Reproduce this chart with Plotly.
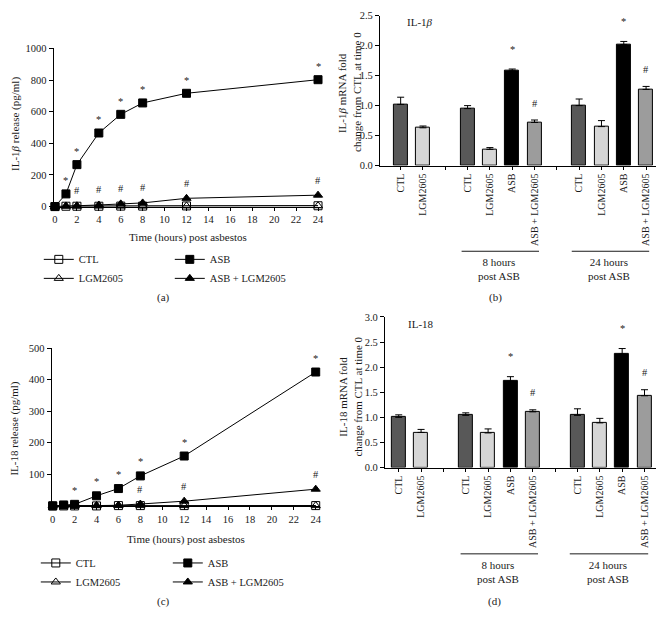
import plotly.graph_objects as go

W, H = 668, 628
FONT = "Liberation Serif, Times New Roman, serif"
FS = 10.5
FT = 11
OFF = 8  # the page body adds an 8 px margin; positions below are screen pixels

# ---------------- data ----------------
hours = [0, 1, 2, 4, 6, 8, 12, 24]

# (a) IL-1beta release (pg/ml)
a_ctl = [0, 2, 2, 2, 3, 3, 4, 5]
a_lgm = [0, 2, 2, 3, 3, 3, 4, 5]
a_asb = [0, 80, 265, 465, 583, 655, 716, 802]
a_asb_lgm = [0, 4, 5, 10, 17, 23, 52, 72]
a_star_hours = [1, 2, 4, 6, 8, 12, 24]
a_hash_hours = [2, 4, 6, 8, 12, 24]

# (c) IL-18 release (pg/ml)
c_ctl = [0, 0, 0, 0, 1, 1, 1, 1]
c_lgm = [0, 0, 0, 1, 1, 1, 1, 1]
c_asb = [0, 3, 5, 32, 55, 95, 158, 424]
c_asb_lgm = [0, 1, 1, 1, 2, 6, 15, 53]
c_star_hours = [2, 4, 6, 8, 12, 24]
c_hash_hours = [8, 12, 24]

# (b), (d) mRNA fold change; empty strings are spacer slots between groups
bar_labels = ["CTL", "LGM2605", "", "CTL", "LGM2605", "ASB", "ASB + LGM2605",
              "", "CTL", "LGM2605", "ASB", "ASB + LGM2605"]
b_values = [1.02, 0.63, None, 0.95, 0.27, 1.58, 0.72, None, 1.00, 0.65, 2.02, 1.27]
b_errors = [0.12, 0.03, None, 0.05, 0.03, 0.03, 0.04, None, 0.11, 0.10, 0.05, 0.05]
b_marks = ["", "", "", "", "", "*", "#", "", "", "", "*", "#"]
d_values = [1.00, 0.70, None, 1.04, 0.69, 1.72, 1.11, None, 1.04, 0.89, 2.26, 1.43]
d_errors = [0.05, 0.06, None, 0.05, 0.08, 0.09, 0.04, None, 0.13, 0.09, 0.11, 0.12]
d_marks = ["", "", "", "", "", "*", "#", "", "", "", "*", "#"]
group_titles = ["8 hours<br>post ASB", "24 hours<br>post ASB"]

BAR_COLORS = {"CTL": "#585858", "LGM2605": "#d6d6d6", "ASB": "#000000",
              "ASB + LGM2605": "#9c9c9c"}
INK = "#1a1a1a"


def px_x(p):
    return (p - OFF) / W


def px_y(p):
    return 1 - (p - OFF) / H


fig = go.Figure()

# ---------------- line panels ----------------
line_styles = [
    ("CTL", "square-open"),
    ("LGM2605", "triangle-up-open"),
    ("ASB", "square"),
    ("ASB + LGM2605", "triangle-up"),
]


def add_line_panel(series, xa, ya, legends):
    for (name, sym), ys, lg in zip(line_styles, series, legends):
        fig.add_trace(go.Scatter(
            x=hours, y=ys, name=name, mode="lines+markers",
            line=dict(color="black", width=1),
            marker=dict(symbol=sym, size=8, color="black",
                        line=dict(color="black", width=1)),
            xaxis=xa, yaxis=ya, legend=lg, cliponaxis=False, showlegend=True))


add_line_panel([a_ctl, a_lgm, a_asb, a_asb_lgm], "x", "y",
               ["legend", "legend", "legend2", "legend2"])
add_line_panel([c_ctl, c_lgm, c_asb, c_asb_lgm], "x2", "y2",
               ["legend3", "legend3", "legend4", "legend4"])

annotations = []


def sig_marks(times, series, xref, yref, text, shift):
    for t in times:
        v = series[hours.index(t)]
        annotations.append(dict(x=t, y=v, xref=xref, yref=yref, text=text,
                                showarrow=False, yshift=shift, yanchor="middle",
                                font=dict(family=FONT, size=FS, color=INK)))


sig_marks(a_star_hours, a_asb, "x", "y", "*", 13)
sig_marks(a_hash_hours, a_asb_lgm, "x", "y", "#", 15)
sig_marks(c_star_hours, c_asb, "x2", "y2", "*", 14)
sig_marks(c_hash_hours, c_asb_lgm, "x2", "y2", "#", 15)

# ---------------- bar panels ----------------


def add_bar_panel(values, errors, marks, xa, ya, xref, yref):
    idx = [i for i, v in enumerate(values) if v is not None]
    fig.add_trace(go.Bar(
        x=idx, y=[values[i] for i in idx], width=0.63,
        marker=dict(color=[BAR_COLORS[bar_labels[i]] for i in idx],
                    line=dict(color="black", width=1)),
        error_y=dict(type="data", array=[errors[i] for i in idx],
                     arrayminus=[0] * len(idx), symmetric=False,
                     color="black", thickness=1, width=3.5),
        xaxis=xa, yaxis=ya, showlegend=False))
    for i in idx:
        if marks[i]:
            annotations.append(dict(x=i, y=values[i] + errors[i], xref=xref,
                                    yref=yref, text=marks[i], showarrow=False,
                                    yshift=20 if marks[i] == "*" else 17,
                                    yanchor="middle",
                                    font=dict(family=FONT, size=FS, color=INK)))


add_bar_panel(b_values, b_errors, b_marks, "x3", "y3", "x3", "y3")
add_bar_panel(d_values, d_errors, d_marks, "x4", "y4", "x4", "y4")

# ---------------- axes ----------------
axis_common = dict(showline=True, linecolor="black", linewidth=1, showgrid=False,
                   zeroline=False, ticks="outside", tickcolor="black")
tick_font = dict(family=FONT, size=FS, color=INK)
bar_tick_font = dict(family=FONT, size=10, color=INK)

layout_axes = dict(
    xaxis=dict(domain=[px_x(52), px_x(321)], range=[-0.12, 24.24],
               tickvals=list(range(0, 25, 2)), ticklen=3, anchor="y",
               tickfont=tick_font, **axis_common),
    yaxis=dict(domain=[px_y(205), px_y(44)], range=[0, 1000], dtick=200,
               ticklen=4, anchor="x", tickfont=tick_font, **axis_common),
    xaxis2=dict(domain=[px_x(50), px_x(319)], range=[-0.09, 24.27],
                tickvals=list(range(0, 25, 2)), ticklen=3, anchor="y2",
                tickfont=tick_font, **axis_common),
    yaxis2=dict(domain=[px_y(509.7), px_y(349)], range=[0, 500],
                tickvals=[100, 200, 300, 400, 500], ticklen=4, anchor="x2",
                tickfont=tick_font, **axis_common),
    xaxis3=dict(domain=[px_x(380.7), px_x(659)], range=[-0.93, 11.45],
                tickvals=list(range(len(bar_labels))), ticktext=bar_labels,
                tickangle=-90, ticklen=3, anchor="y3", tickfont=bar_tick_font,
                **axis_common),
    yaxis3=dict(domain=[px_y(163.3), px_y(10.7)], range=[0, 2.5], dtick=0.5,
                tickformat=".1f", ticklen=4, anchor="x3", tickfont=tick_font,
                **axis_common),
    xaxis4=dict(domain=[px_x(385.7), px_x(659)], range=[-0.62, 11.52],
                tickvals=list(range(len(bar_labels))), ticktext=bar_labels,
                tickangle=-90, ticklen=3, anchor="y4", tickfont=bar_tick_font,
                **axis_common),
    yaxis4=dict(domain=[px_y(470.7), px_y(317.3)], range=[0, 3.0], dtick=0.5,
                tickformat=".1f", ticklen=4, anchor="x4", tickfont=tick_font,
                **axis_common),
)

# ---------------- text ----------------


def ptext(x, y, text, angle=0, size=FT):
    annotations.append(dict(x=px_x(x), y=px_y(y), xref="paper", yref="paper",
                            text=text, showarrow=False, textangle=angle,
                            xanchor="center", yanchor="middle",
                            font=dict(family=FONT, size=size, color=INK)))


ptext(13, 121, "IL-1<i>β</i> release (pg/ml)", angle=-90)
ptext(187, 237, "Time (hours) post asbestos")
ptext(163, 298, "(a)")
ptext(13, 431, "IL-18 release (pg/ml)", angle=-90)
ptext(185, 544, "Time (hours) post asbestos")
ptext(163, 607, "(c)")

ptext(342, 90, "IL-1<i>β</i> mRNA fold", angle=-90)
ptext(357, 88, "change from CTL at time 0", angle=-90)
ptext(421, 17, "IL-1<i>β</i>")
ptext(501, 269, group_titles[0])
ptext(612, 269, group_titles[1])
ptext(497, 298, "(b)")

ptext(344, 398, "IL-18 mRNA fold", angle=-90)
ptext(359, 398, "change from CTL at time 0", angle=-90)
ptext(422, 325, "IL-18")
ptext(500, 577, group_titles[0])
ptext(611, 577, group_titles[1])
ptext(496, 607, "(d)")

shapes = []


def pline(x0, x1, y):
    shapes.append(dict(type="line", xref="paper", yref="paper",
                       x0=px_x(x0), x1=px_x(x1), y0=px_y(y), y1=px_y(y),
                       line=dict(color=INK, width=1)))


pline(463, 541, 250.5)
pline(574, 652, 250.5)
pline(462, 540, 558.5)
pline(572, 651, 558.5)


def legend_at(x, y):
    return dict(x=px_x(x), y=px_y(y), xanchor="left", yanchor="top",
                orientation="v", bgcolor="rgba(0,0,0,0)", itemwidth=30,
                font=dict(family=FONT, size=FS, color=INK),
                tracegroupgap=0, itemclick=False)


fig.update_layout(
    width=W, height=H, margin=dict(l=0, r=0, t=0, b=0),
    paper_bgcolor="white", plot_bgcolor="white",
    font=dict(family=FONT, size=FS, color=INK),
    annotations=annotations, shapes=shapes,
    legend=legend_at(37, 244), legend2=legend_at(169, 244),
    legend3=legend_at(34, 553), legend4=legend_at(167, 553),
    bargap=0,
    **layout_axes,
)

fig.write_html("out.html")
